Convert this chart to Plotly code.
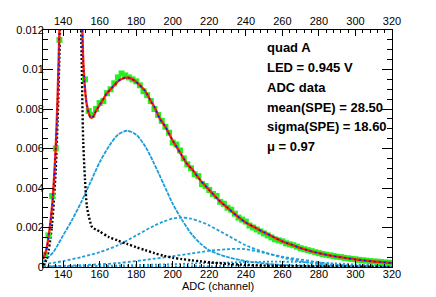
import plotly.graph_objects as go

# ---------------- data ----------------
data_x = [130,132,134,136,138,140,142,144,146,148,150,152,154,156,158,160,162,164,166,168,
          170,172,174,176,178,180,182,184,186,188,190,192,194,196,198,200,202,204,206,208,
          210,212,214,216,218,220,222,224,226,228,230,232,234,236,238,240,242,244,246,248,
          250,252,254,256,258,260,262,264,266,268,270,272,274,276,278,280,282,284,286,288,
          290,292,294,296,298,300,302,304,306,308,310,312,314,316,318,320]
data_y = [0.00062,0.0016,0.0036,0.0060,0.0115,0.021,0.029,0.034,0.032,0.025,0.0145,0.0095,0.0079,0.0077,0.0080,0.0083,0.0084,0.0088,0.0090,0.0093,
          0.0096,0.0098,0.0097,0.0096,0.0095,0.0094,0.0092,0.0089,0.0087,0.0084,0.0080,0.0077,0.0074,0.0071,0.0068,0.0063,0.0062,0.0059,0.0055,0.0052,
          0.0050,0.0047,0.0046,0.0042,0.0041,0.0039,0.0037,0.0036,0.0033,0.0032,0.0030,0.0029,0.0027,0.0025,0.0024,0.0023,0.0021,0.0020,0.0019,0.0018,
          0.0017,0.0016,0.0015,0.0014,0.00135,0.0013,0.0012,0.00115,0.0011,0.00103,0.00095,0.0009,0.00085,0.0008,0.00075,0.0007,0.00066,0.00062,0.00059,0.00056,
          0.00052,0.0005,0.00046,0.00044,0.00041,0.00039,0.00036,0.00034,0.00032,0.0003,0.00028,0.00027,0.00025,0.00023,0.00022,0.0002]

fit_x = [129,130,131,132,133,134,135,136,137,138,139,140,142,144,146,148,149,150,151,152,153,154,155,156,157,158,
         160,162,164,166,168,170,172,174,176,178,180,182,185,188,190,193,196,200,204,208,211,215,220,225,230,235,
         240,245,250,255,260,265,270,275,280,285,290,295,300,305,310,315,320]
fit_y = [0.0004,0.00062,0.00095,0.0015,0.0022,0.0031,0.0044,0.0061,0.0086,0.012,0.0163,0.021,0.029,0.034,0.032,0.025,0.020,0.0145,0.0105,0.0090,0.0082,0.0078,0.00758,0.00757,0.0077,0.0079,
         0.0082,0.0085,0.0088,0.0090,0.0092,0.0094,0.00952,0.00958,0.00958,0.0095,0.00937,0.0092,0.0089,0.0084,0.0081,0.0075,0.0071,0.0064,0.0058,0.0052,0.0049,0.0044,0.0039,0.0034,0.0030,0.0026,
         0.00225,0.0020,0.00175,0.00152,0.0013,0.00113,0.00096,0.00082,0.0007,0.0006,0.00052,0.00045,0.00038,0.00033,0.00028,0.00024,0.0002]

ped_x = [129,130,131,132,133,134,135,136,137,138,139,140,142,144,146,148,149,150,151,152,153,154,156,158,160,
         165,170,175,180,185,190,195,200,205,210,215,220,230,240,250,260,280,300,320]
ped_y = [0.0001,0.0002,0.0004,0.0008,0.0014,0.0022,0.0034,0.005,0.0075,0.0108,0.015,0.0195,0.027,0.031,0.029,0.022,0.017,0.0115,0.0064,0.0044,0.0031,0.0026,0.002,0.0019,0.0018,
         0.00152,0.00134,0.00117,0.001,0.00085,0.0007,0.00057,0.00047,0.0004,0.00034,0.00029,0.00024,0.00016,0.00011,0.00007,0.00005,0.00003,0.00002,0.00001]

pe1_x = [129,132,135,140,145,150,155,160,165,170,175,180,185,190,195,200,205,210,215,220,230,240,250,260,280,300,320]
pe1_y = [0.00025,0.0005,0.0008,0.0016,0.0024,0.0033,0.0043,0.0053,0.0061,0.0067,0.0069,0.0067,0.0061,0.0052,0.0042,0.0032,0.0024,0.0017,0.0012,0.00085,0.0005,0.0003,0.00018,0.0001,0.00004,0.00002,0.00001]

pe2_x = [129,140,150,160,170,180,190,195,200,205,210,215,220,230,240,250,260,270,280,290,300,320]
pe2_y = [0.00013,0.0003,0.0005,0.00075,0.0011,0.0016,0.0021,0.0023,0.00245,0.0025,0.00245,0.0023,0.0021,0.0016,0.0011,0.00075,0.00048,0.00028,0.00016,0.00009,0.00005,0.00001]

pe3_x = [129,150,170,190,200,210,220,230,235,240,250,260,270,280,290,300,320]
pe3_y = [0.00004,0.00009,0.0002,0.00042,0.00055,0.00068,0.00082,0.0009,0.00092,0.0009,0.00072,0.00052,0.00038,0.00024,0.00011,0.00006,0.00002]

pe4_x = [129,160,190,220,240,260,280,300,320]
pe4_y = [0.00003,0.00006,0.00012,0.0002,0.00025,0.00027,0.00022,0.00013,0.00006]

pe5_x = [129,200,250,290,320]
pe5_y = [0.00001,0.00003,0.00007,0.0001,0.00009]

x_ticks = [140,160,180,200,220,240,260,280,300,320]
y_ticks = [0,0.002,0.004,0.006,0.008,0.01,0.012]
y_tick_labels = ["0","0.002","0.004","0.006","0.008","0.01","0.012"]

info_lines = ["quad A","LED = 0.945 V","ADC data","mean(SPE) = 28.50","sigma(SPE) = 18.60","\u03bc = 0.97"]

X_RANGE = [129, 320]
Y_RANGE = [0, 0.012]
BLUE = "#1e9ed8"

fig = go.Figure()

def comp(x, y, dash, width=1.8, color=BLUE):
    fig.add_trace(go.Scatter(x=x, y=y, mode="lines", line=dict(color=color, width=width, dash=dash, shape="spline", smoothing=0.8), hoverinfo="skip"))

comp(pe5_x, pe5_y, "2px,2px")
comp(pe4_x, pe4_y, "2px,2px")
comp(pe3_x, pe3_y, "3px,2px")
comp(pe2_x, pe2_y, "3px,2px")
comp(pe1_x, pe1_y, "4px,1px")
comp(ped_x, ped_y, "2px,2px", width=2.4, color="black")

fig.add_trace(go.Scatter(x=data_x, y=data_y, mode="markers",
                         marker=dict(symbol="square", size=6, color="#22f022", line=dict(width=0)), hoverinfo="skip"))
fig.add_trace(go.Scatter(x=fit_x, y=fit_y, mode="lines", line=dict(color="#ff2000", width=2.4, shape="spline", smoothing=0.8), hoverinfo="skip"))
fig.add_trace(go.Scatter(x=fit_x, y=fit_y, mode="lines", line=dict(color="#1010ff", width=1.4, dash="2px,3px", shape="spline", smoothing=0.8), hoverinfo="skip"))
# dummy trace for top / right axes
fig.add_trace(go.Scatter(x=[X_RANGE[0]], y=[Y_RANGE[0]], xaxis="x2", yaxis="y2", mode="markers", marker=dict(opacity=0), hoverinfo="skip"))

font = "Liberation Sans, Arial, Helvetica, sans-serif"
tickfont = dict(family=font, size=11, color="black")

fig.update_layout(
    width=436, height=297,
    margin=dict(l=43, r=44, t=30, b=30),
    paper_bgcolor="white", plot_bgcolor="white",
    showlegend=False,
    xaxis=dict(range=X_RANGE, tickvals=x_ticks, ticks="inside", ticklen=6, tickcolor="black",
               showline=True, linecolor="black", linewidth=1, showgrid=False, zeroline=False,
               tickfont=tickfont, ticklabelstandoff=-3,
               minor=dict(dtick=4, tick0=0, ticks="inside", ticklen=3, tickcolor="black", showgrid=False)),
    xaxis2=dict(range=X_RANGE, overlaying="x", side="top", tickvals=x_ticks, ticks="inside", ticklen=6, tickcolor="black",
                showline=True, linecolor="black", linewidth=1, showgrid=False, zeroline=False,
                tickfont=tickfont,
                minor=dict(dtick=4, tick0=0, ticks="inside", ticklen=3, tickcolor="black", showgrid=False)),
    yaxis=dict(range=Y_RANGE, tickvals=y_ticks, ticktext=y_tick_labels, ticks="inside", ticklen=10, tickcolor="black",
               showline=True, linecolor="black", linewidth=1, showgrid=False, zeroline=False,
               tickfont=tickfont, ticklabelstandoff=-4,
               minor=dict(dtick=0.0005, tick0=0, ticks="inside", ticklen=5, tickcolor="black", showgrid=False)),
    yaxis2=dict(range=Y_RANGE, overlaying="y", side="right", tickvals=y_ticks, ticks="inside", ticklen=10, tickcolor="black",
                showline=True, linecolor="black", linewidth=1, showgrid=False, zeroline=False, showticklabels=False,
                minor=dict(dtick=0.0005, tick0=0, ticks="inside", ticklen=5, tickcolor="black", showgrid=False)),
)

ys = [47.5, 68, 88, 107.5, 127, 146.5]
for txt, py in zip(info_lines, ys):
    fig.add_annotation(x=(265-43)/349, y=(267.5-py)/237, xref="paper", yref="paper", text="<b>%s</b>" % txt,
                       showarrow=False, xanchor="left", yanchor="middle",
                       font=dict(family=font, size=13, color="black"))

fig.add_annotation(x=0.5, y=(267.5-286)/237, xref="paper", yref="paper", text="ADC (channel)",
                   showarrow=False, xanchor="center", yanchor="middle", font=dict(family=font, size=11, color="black"))

fig.write_html("out.html", config={"displayModeBar": False}, post_script="document.body.style.margin='0';")
